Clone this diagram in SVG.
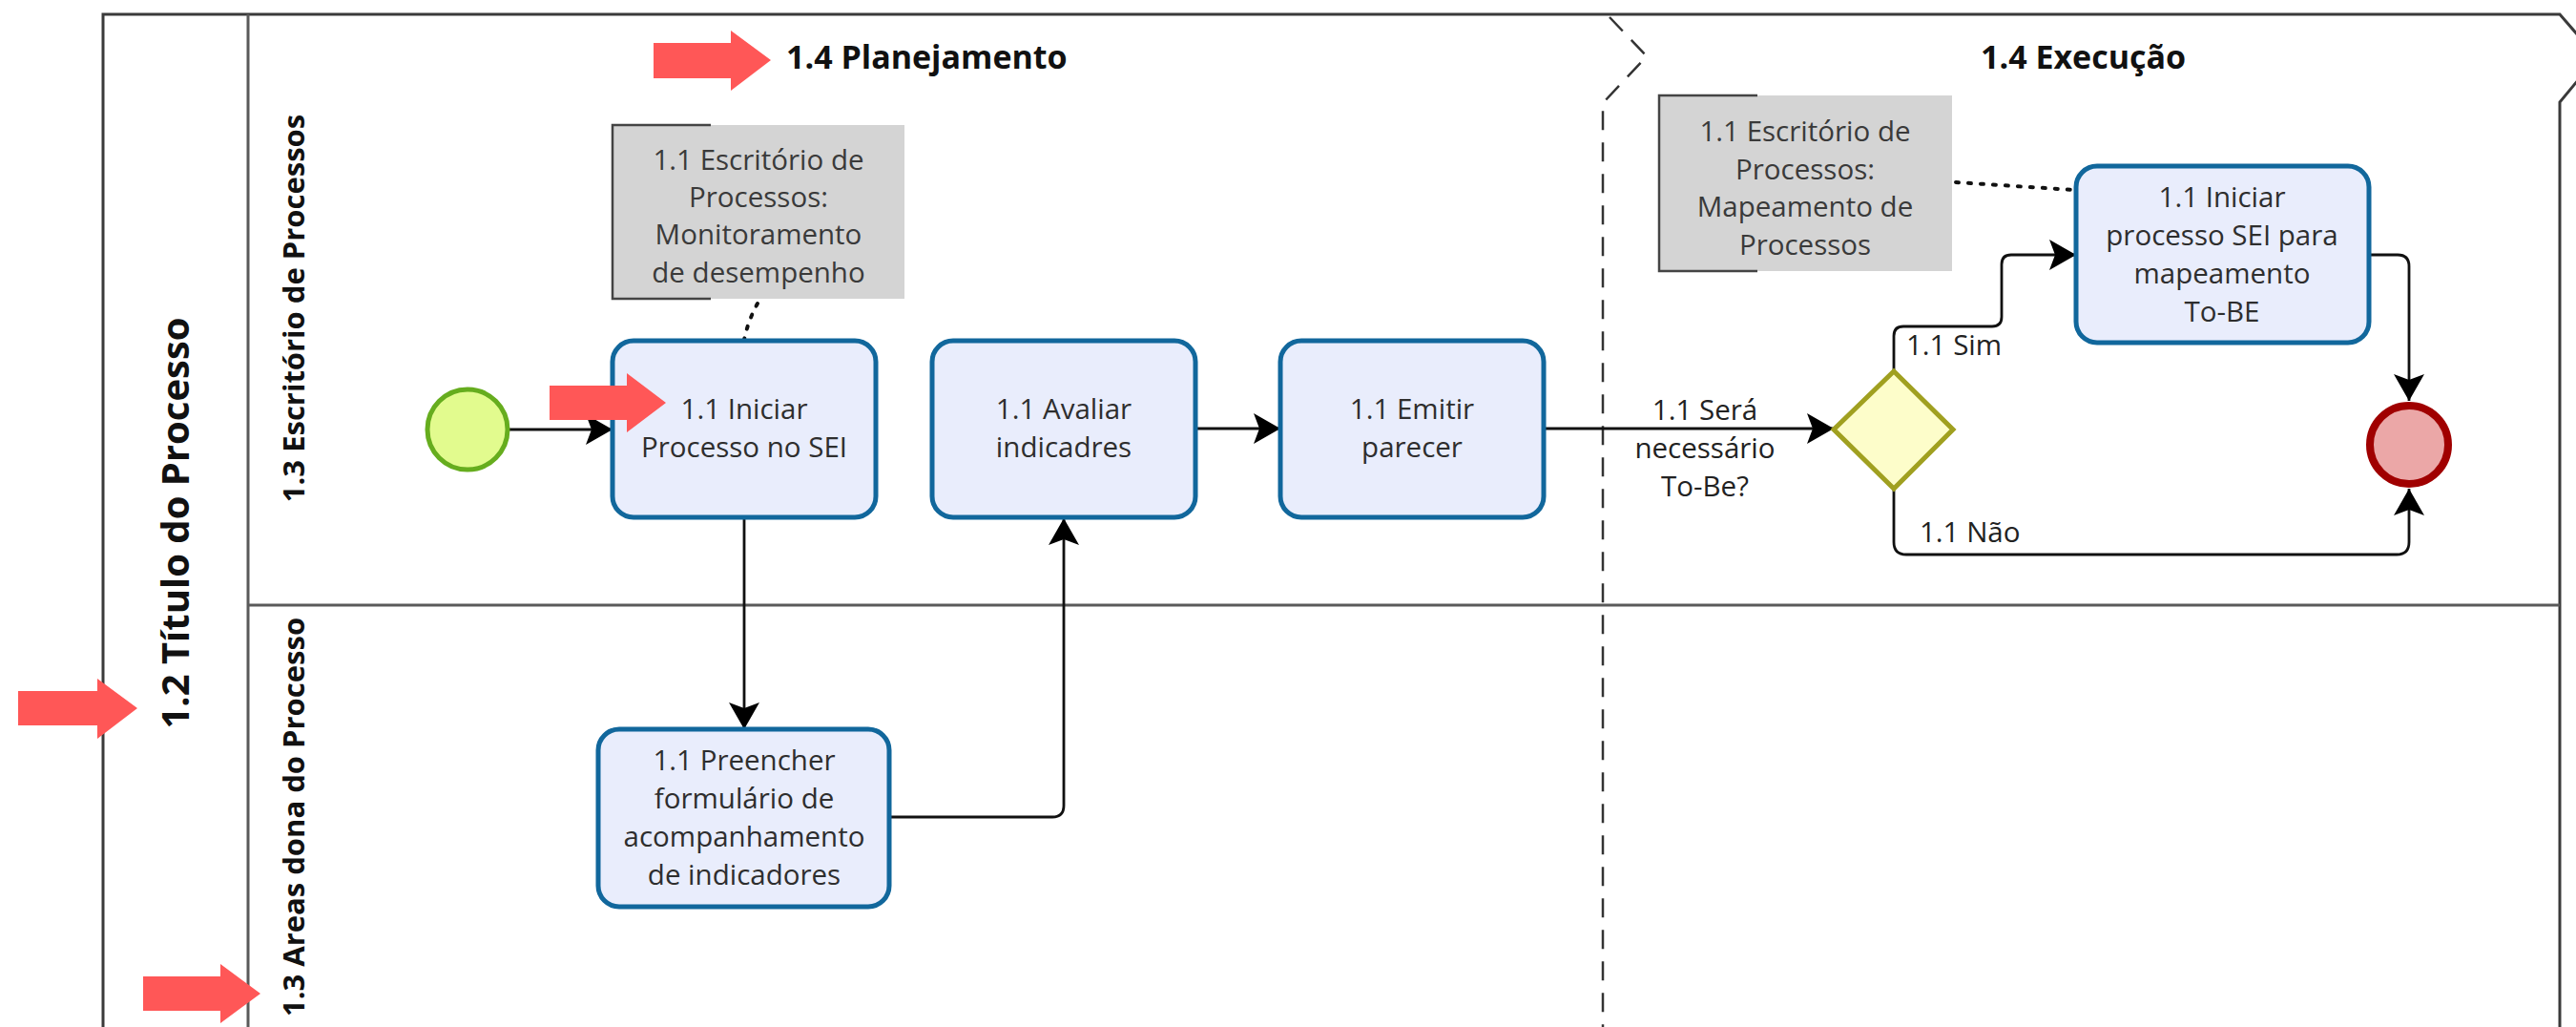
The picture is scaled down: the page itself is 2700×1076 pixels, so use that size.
<svg xmlns="http://www.w3.org/2000/svg" width="2700" height="1076" viewBox="0 0 2700 1076">
<style>
.pool{fill:none;stroke:#3a3a3a;stroke-width:3}
.lane{fill:none;stroke:#5a5a5a;stroke-width:3}
.phase{fill:none;stroke:#333;stroke-width:2.5;stroke-dasharray:20 13}
.task{fill:#e9edfc;stroke:#11679c;stroke-width:5}
.tt{font-family:"Open Sans","Liberation Sans",sans-serif;font-size:29.5px;fill:#2e2e2e;text-anchor:middle}
.ann{fill:#d4d4d4;stroke:none}
.bracket{fill:none;stroke:#444;stroke-width:2.5}
.at{font-family:"Open Sans","Liberation Sans",sans-serif;font-size:29.5px;fill:#3a3a3a;text-anchor:middle}
.flow{fill:none;stroke:#111;stroke-width:2.8}
.assoc{fill:none;stroke:#111;stroke-width:4;stroke-dasharray:3 10;stroke-linecap:round}
.lbl{font-family:"Open Sans","Liberation Sans",sans-serif;font-size:29.5px;fill:#222}
.title{font-family:"Open Sans","Liberation Sans",sans-serif;font-weight:bold;fill:#111}
.red{fill:#ff5757}
</style>
<defs>
<marker id="arr" markerUnits="userSpaceOnUse" markerWidth="32" markerHeight="36" viewBox="0 -18 30 36" refX="28" refY="0" orient="auto">
<path d="M0,-16 L28,0 L0,16 L6,0 Z" fill="#000"/>
</marker>
</defs>
<rect width="2700" height="1076" fill="#fff"/>

<g id="pool">
<path class="pool" d="M108,1076 L108,15 L2683,15 L2722,60 L2683,107 L2683,1076"/>
<line class="lane" x1="260" y1="15" x2="260" y2="1076"/>
<line class="lane" x1="260" y1="634" x2="2683" y2="634"/>
<text class="title" font-size="40" text-anchor="middle" transform="translate(198,548) rotate(-90)">1.2 Título do Processo</text>
</g>
<g id="lane-escritorio">
<text class="title" font-size="31" text-anchor="middle" transform="translate(319,323) rotate(-90)">1.3 Escritório de Processos</text>
</g>
<g id="lane-areas">
<text class="title" font-size="31" text-anchor="middle" transform="translate(319,856) rotate(-90)">1.3 Areas dona do Processo</text>
</g>
<g id="phase-planejamento">
<text class="title" font-size="34" x="824" y="72">1.4 Planejamento</text>
</g>
<g id="phase-execucao">
<path class="phase" d="M1687,18 L1726,59 L1680,108 L1680,1076"/>
<text class="title" font-size="34" x="2076" y="72">1.4 Execução</text>
</g>

<g id="connectors">
<line class="flow" x1="534" y1="450" x2="642" y2="450" marker-end="url(#arr)"/>
<line class="flow" x1="780" y1="543" x2="780" y2="764" marker-end="url(#arr)"/>
<path class="flow" d="M932,856 L1103,856 Q1115,856 1115,844 L1115,543" marker-end="url(#arr)"/>
<line class="flow" x1="1253" y1="449" x2="1342" y2="449" marker-end="url(#arr)"/>
<line class="flow" x1="1618" y1="449" x2="1922" y2="449" marker-end="url(#arr)"/>
<path class="flow" d="M1985,389 L1985,352 Q1985,342 1995,342 L2088,342 Q2098,342 2098,332 L2098,277 Q2098,267 2108,267 L2176,267" marker-end="url(#arr)"/>
<path class="flow" d="M2483,267 L2513,267 Q2525,267 2525,279 L2525,420" marker-end="url(#arr)"/>
<path class="flow" d="M1985,512 L1985,568 Q1985,581 1998,581 L2512,581 Q2525,581 2525,568 L2525,512" marker-end="url(#arr)"/>
<path class="assoc" d="M794,318 Q784,336 780,356"/>
<line class="assoc" x1="2050" y1="191" x2="2174" y2="199"/>
<text class="lbl" text-anchor="middle" x="1787" y="440">1.1 Será</text>
<text class="lbl" text-anchor="middle" x="1787" y="480">necessário</text>
<text class="lbl" text-anchor="middle" x="1787" y="520">To-Be?</text>
<text class="lbl" x="1998" y="372">1.1 Sim</text>
<text class="lbl" x="2012" y="568">1.1 Não</text>
</g>

<g id="start">
<circle cx="490" cy="450" r="42" fill="#e2fb8e" stroke="#66ad1e" stroke-width="5"/>
</g>
<g id="task-iniciar">
<rect class="task" x="642" y="357" width="276" height="185" rx="22"/>
<text class="tt" x="780" y="439">1.1 Iniciar</text>
<text class="tt" x="780" y="479">Processo no SEI</text>
</g>
<g id="task-avaliar">
<rect class="task" x="977" y="357" width="276" height="185" rx="22"/>
<text class="tt" x="1115" y="439">1.1 Avaliar</text>
<text class="tt" x="1115" y="479">indicadres</text>
</g>
<g id="task-emitir">
<rect class="task" x="1342" y="357" width="276" height="185" rx="22"/>
<text class="tt" x="1480" y="439">1.1 Emitir</text>
<text class="tt" x="1480" y="479">parecer</text>
</g>
<g id="task-preencher">
<rect class="task" x="627" y="764" width="305" height="186" rx="22"/>
<text class="tt" x="780" y="807">1.1 Preencher</text>
<text class="tt" x="780" y="847">formulário de</text>
<text class="tt" x="780" y="887">acompanhamento</text>
<text class="tt" x="780" y="927">de indicadores</text>
</g>
<g id="gateway">
<polygon points="1985,389 2047,450 1985,512 1922,450" fill="#fdfdca" stroke="#a0a020" stroke-width="5"/>
</g>
<g id="task-iniciar-sei">
<rect class="task" x="2176" y="174" width="307" height="185" rx="22"/>
<text class="tt" x="2329" y="217">1.1 Iniciar</text>
<text class="tt" x="2329" y="257">processo SEI para</text>
<text class="tt" x="2329" y="297">mapeamento</text>
<text class="tt" x="2329" y="337">To-BE</text>
</g>
<g id="end">
<circle cx="2525" cy="466" r="41" fill="#eba7a7" stroke="#a00000" stroke-width="8"/>
</g>
<g id="annotation-monitoramento">
<rect class="ann" x="642" y="131" width="306" height="182"/>
<path class="bracket" d="M745,131 L642,131 L642,313 L745,313"/>
<text class="at" x="795" y="178">1.1 Escritório de</text>
<text class="at" x="795" y="217">Processos:</text>
<text class="at" x="795" y="256">Monitoramento</text>
<text class="at" x="795" y="296">de desempenho</text>
</g>
<g id="annotation-mapeamento">
<rect class="ann" x="1739" y="100" width="307" height="184"/>
<path class="bracket" d="M1842,100 L1739,100 L1739,284 L1842,284"/>
<text class="at" x="1892" y="148">1.1 Escritório de</text>
<text class="at" x="1892" y="188">Processos:</text>
<text class="at" x="1892" y="227">Mapeamento de</text>
<text class="at" x="1892" y="267">Processos</text>
</g>
<g id="callouts">
<polygon class="red" points="685,45 766,45 766,32 808,63 766,95 766,82 685,82"/>
<polygon class="red" points="576,404 657,404 657,391 698,422 657,453 657,440 576,440"/>
<polygon class="red" points="19,724 102,724 102,711 144,742 102,774 102,760 19,760"/>
<polygon class="red" points="150,1023 231,1023 231,1010 273,1041 231,1072 231,1059 150,1059"/>
</g>
</svg>
